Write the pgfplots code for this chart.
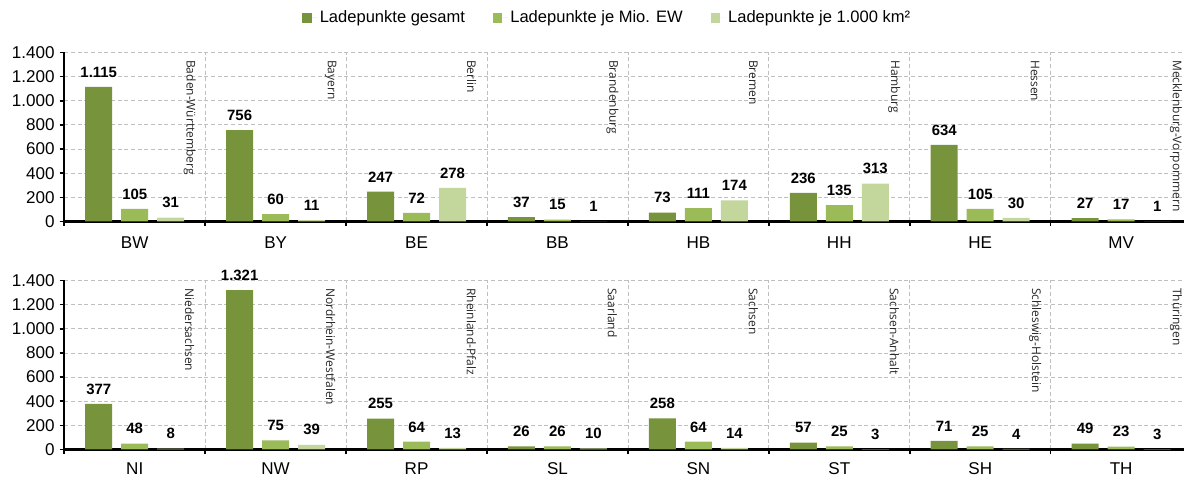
\documentclass[border=0pt]{standalone}
\usepackage{fontspec}
\setmainfont{Liberation Sans}
\newfontfamily\statefont{Open Sans}
\usepackage{pgfplots}
\pgfplotsset{compat=1.18}
\usepackage{pgfplotstable}

\definecolor{cA}{HTML}{77933C}
\definecolor{cB}{HTML}{9BBB59}
\definecolor{cC}{HTML}{C3D69B}
\definecolor{gridc}{HTML}{BFBFBF}

\pgfplotstableread{
x ges mio km
0.5 1115 105 31
1.5 756 60 11
2.5 247 72 278
3.5 37 15 1
4.5 73 111 174
5.5 236 135 313
6.5 634 105 30
7.5 27 17 1
}\toprow
\pgfplotstableread{
x ges mio km
0.5 377 48 8
1.5 1321 75 39
2.5 255 64 13
3.5 26 26 10
4.5 258 64 14
5.5 57 25 3
6.5 71 25 4
7.5 49 23 3
}\botrow

\tikzset{statenode/.style={rotate=-90, anchor=west, inner sep=0pt, text=black!85, font=\statefont\fontsize{9}{10}\selectfont}}

\pgfplotsset{
  rowstyle/.style={
    scale only axis, width=845.5pt, height=126.75pt,
    xmin=0, xmax=8, ymin=0, ymax=1400,
    ytick={0,200,...,1400},
    xtick={0,1,...,8}, xticklabels={},
    extra x ticks={0.5,1.5,...,7.5},
    extra x tick style={major tick length=0pt, grid=none},
    axis lines*=left,
    axis line style={black, line width=1.6pt},
    tick align=outside, major tick length=3.5pt,
    tick style={black, line width=1.2pt},
    grid style={gridc, dash pattern=on 3pt off 2pt, line width=0.6pt},
    xmajorgrids, ymajorgrids,
    /pgf/number format/1000 sep={.},
    /pgf/number format/assume math mode=true,
    ticklabel style={font=\fontsize{12.8}{14}\selectfont},
    yticklabel shift=0.2pt,
    xticklabel shift=7.8pt,
    ybar, bar width=20.25pt,
    clip=false,
    nodes near coords,
    every node near coord/.append style={font=\bfseries\fontsize{11.2}{13}\selectfont, anchor=south, inner sep=0pt, yshift=7pt, text=black},
    legend image code/.code={\fill[##1, draw=none] (0pt,-3.4pt) rectangle (6.8pt,3.4pt); \path (0pt,0pt) -- (11pt,0pt);},
  },
}

\begin{document}
\begin{tikzpicture}
\clip (0,0) rectangle (888pt,357pt);

\begin{axis}[rowstyle, at={(48.2pt,190.9pt)}, anchor=south west,
  extra x tick labels={BW,BY,BE,BB,HB,HH,HE,MV},
  legend style={at={(0.482,1.204)}, anchor=center, legend columns=3, draw=none, fill=none,
    font=\fontsize{12.4}{14}\selectfont, /tikz/every even column/.append style={column sep=19pt}},
  legend cell align=left]
\addplot[fill=cA, draw=none, bar shift=-27pt] table[x=x, y=ges] {\toprow};
\addplot[fill=cB, draw=none, bar shift=0pt] table[x=x, y=mio] {\toprow};
\addplot[fill=cC, draw=none, bar shift=27pt] table[x=x, y=km] {\toprow};
\legend{Ladepunkte gesamt, Ladepunkte je Mio. EW, Ladepunkte je 1.000 km²}
\node[statenode] at (axis cs:0.89,1338) {Baden-Württemberg};
\node[statenode] at (axis cs:1.89,1338) {Bayern};
\node[statenode] at (axis cs:2.89,1338) {Berlin};
\node[statenode] at (axis cs:3.89,1338) {Brandenburg};
\node[statenode] at (axis cs:4.89,1338) {Bremen};
\node[statenode] at (axis cs:5.89,1338) {Hamburg};
\node[statenode] at (axis cs:6.89,1338) {Hessen};
\node[statenode] at (axis cs:7.89,1338) {Mecklenburg-Vorpommern};
\end{axis}

\begin{axis}[rowstyle, at={(48.2pt,19.9pt)}, anchor=south west,
  xticklabel shift=6.1pt,
  extra x tick labels={NI,NW,RP,SL,SN,ST,SH,TH}]
\addplot[fill=cA, draw=none, bar shift=-27pt] table[x=x, y=ges] {\botrow};
\addplot[fill=cB, draw=none, bar shift=0pt] table[x=x, y=mio] {\botrow};
\addplot[fill=cC, draw=none, bar shift=27pt] table[x=x, y=km] {\botrow};
\node[statenode] at (axis cs:0.89,1338) {Niedersachsen};
\node[statenode] at (axis cs:1.89,1338) {Nordrhein-Westfalen};
\node[statenode] at (axis cs:2.89,1338) {Rheinland-Pfalz};
\node[statenode] at (axis cs:3.89,1338) {Saarland};
\node[statenode] at (axis cs:4.89,1338) {Sachsen};
\node[statenode] at (axis cs:5.89,1338) {Sachsen-Anhalt};
\node[statenode] at (axis cs:6.89,1338) {Schleswig-Holstein};
\node[statenode] at (axis cs:7.89,1338) {Thüringen};
\end{axis}
\end{tikzpicture}
\end{document}
